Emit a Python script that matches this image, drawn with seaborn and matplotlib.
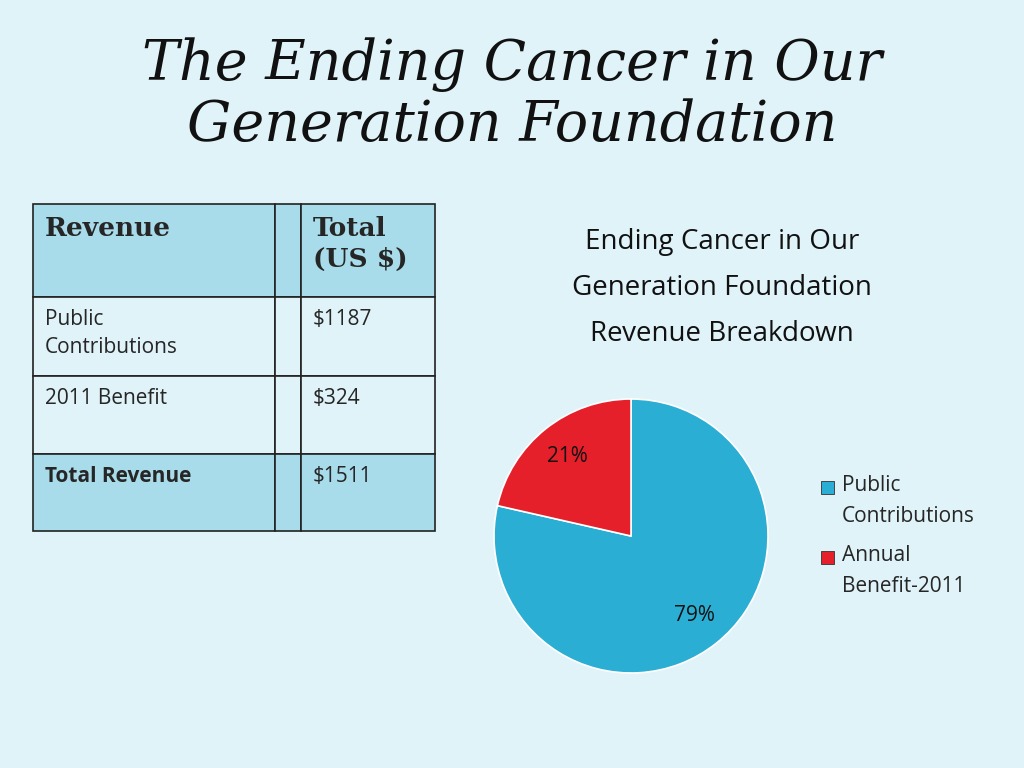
import matplotlib
matplotlib.use("Agg")
import matplotlib.pyplot as plt
import seaborn as sns
from matplotlib.patches import Rectangle

sns.set_style("white")

# ---- data ----
title = "The Ending Cancer in Our\nGeneration Foundation"
table_header = ["Revenue", "", "Total\n(US $)"]
table_rows = [
    ["Public\nContributions", "", "$1187"],
    ["2011 Benefit", "", "$324"],
    ["Total Revenue", "", "$1511"],
]
pie_labels = ["Public\nContributions", "Annual\nBenefit-2011"]
pie_values = [1187, 324]
pie_colors = ["#2aaed3", "#e5202b"]
chart_title = "Ending Cancer in Our\nGeneration Foundation\nRevenue Breakdown"

W, H = 1024, 768
bg = "#dff3f9"
fig = plt.figure(figsize=(W / 100, H / 100), dpi=100, facecolor=bg)

def fx(px):
    return px / W

def fy(py):
    return 1 - py / H

# ---- slide title ----
fig.text(0.5, fy(95), title, ha="center", va="center", fontsize=40,
         family="DejaVu Serif", style="italic", color="#111111", linespacing=1.15)

# ---- table ----
col_edges = [33, 275, 301, 435]
row_edges = [204, 297, 376, 454, 531]
row_fill = ["#a8dcea", bg, bg, "#a8dcea"]
all_rows = [table_header] + table_rows
for r, row in enumerate(all_rows):
    y0, y1 = row_edges[r], row_edges[r + 1]
    for c, txt in enumerate(row):
        x0, x1 = col_edges[c], col_edges[c + 1]
        fig.patches.append(Rectangle((fx(x0), fy(y1)), fx(x1 - x0), (y1 - y0) / H,
                                     transform=fig.transFigure, facecolor=row_fill[r],
                                     edgecolor="#222222", linewidth=1.2))
        if not txt:
            continue
        if r == 0:
            fig.text(fx(x0 + 12), fy(y0 + 12), txt, ha="left", va="top", fontsize=19,
                     family="DejaVu Serif", weight="bold", linespacing=1.3)
        else:
            bold = r == len(all_rows) - 1 and c == 0
            fig.text(fx(x0 + 12), fy(y0 + 12), txt, ha="left", va="top", fontsize=15,
                     family="Open Sans", weight="bold" if bold else "normal",
                     linespacing=1.45)

# ---- pie chart ----
fig.text(fx(722), fy(288), chart_title, ha="center", va="center", fontsize=20,
         family="Open Sans", linespacing=1.85, color="#111111")

cx, cy, rad = 631, 536, 137
ax = fig.add_axes([fx(cx - rad), fy(cy + rad), 2 * rad / W, 2 * rad / H])
ax.set_facecolor("none")
wedges, texts, autotexts = ax.pie(
    pie_values, colors=pie_colors, startangle=90, counterclock=False,
    autopct="%1.0f%%", pctdistance=0.74,
    wedgeprops=dict(edgecolor="white", linewidth=1.2),
    textprops=dict(fontsize=15, family="Open Sans", color="#111111"))
ax.set_aspect("equal")
ax.set_xlim(-1, 1)
ax.set_ylim(-1, 1)
ax.axis("off")

# legend
leg_y = [487, 557]
for lab, col, ly in zip(pie_labels, pie_colors, leg_y):
    fig.patches.append(Rectangle((fx(821), fy(ly + 7)), fx(13), 13 / H,
                                 transform=fig.transFigure, facecolor=col,
                                 edgecolor="#333333", linewidth=0.6))
    fig.text(fx(842), fy(ly - 12), lab, ha="left", va="top", fontsize=15,
             family="Open Sans", linespacing=1.6)

fig.savefig("out.png", dpi=100, facecolor=bg)
